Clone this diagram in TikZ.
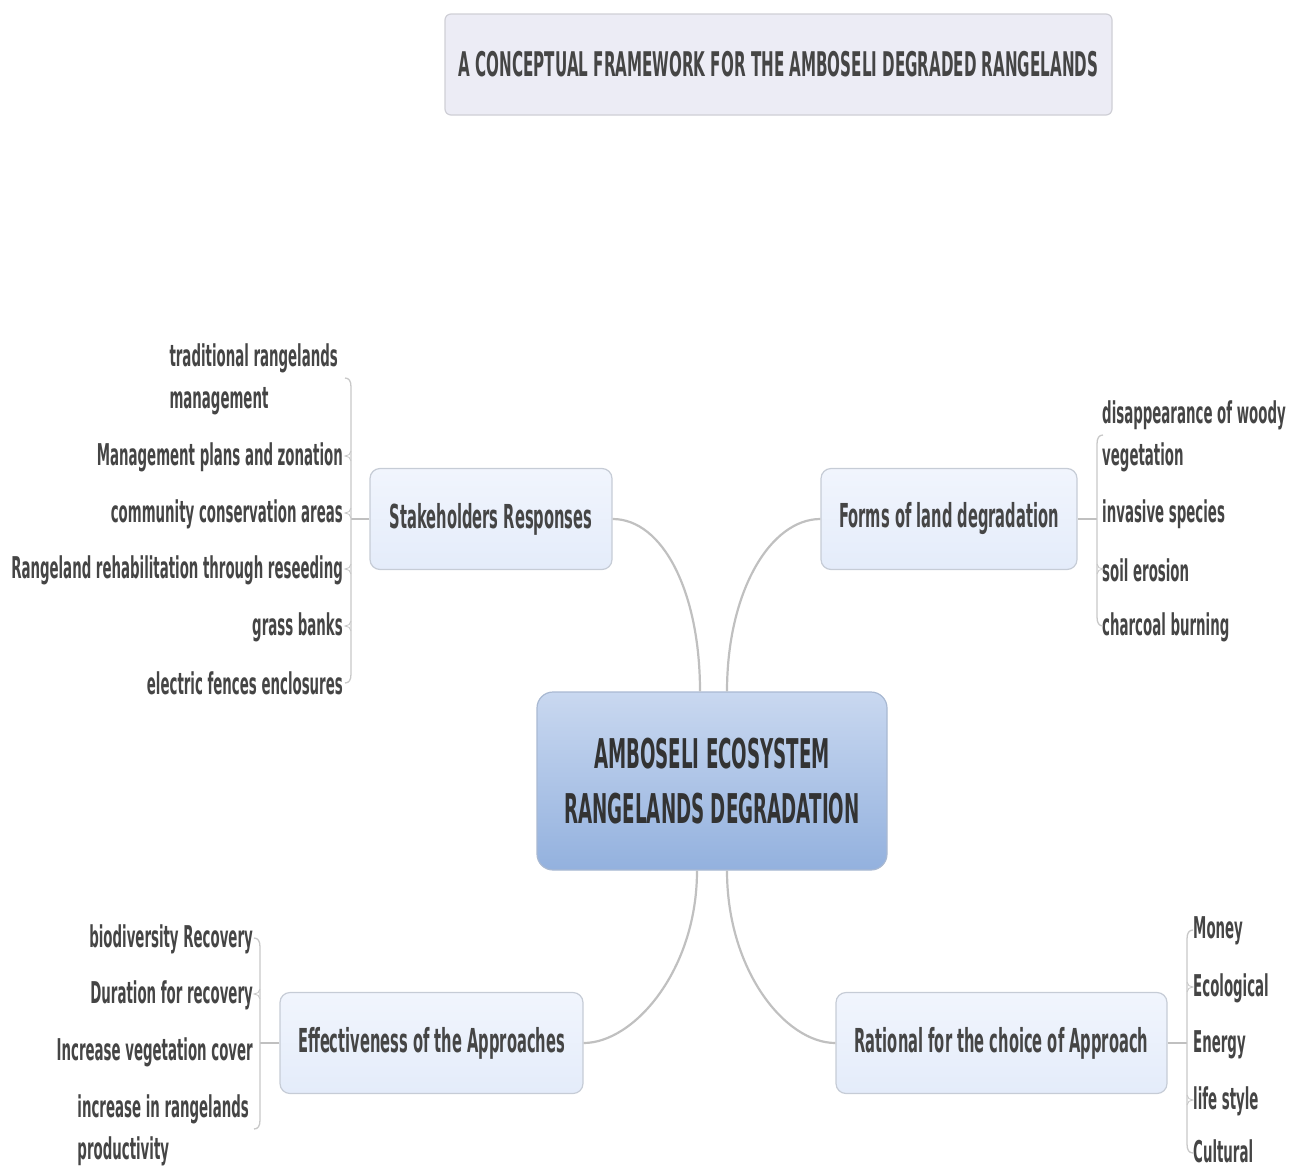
\documentclass[tikz,border=0pt]{standalone}
\usepackage{fontspec}
\newfontfamily\xm{DejaVu Sans}[FakeStretch=0.445]
\usetikzlibrary{shadows}
\definecolor{txt}{HTML}{454545}
\definecolor{ctxt}{HTML}{333333}
\definecolor{boxfillT}{HTML}{F1F5FD}
\definecolor{boxfillB}{HTML}{E4ECFA}
\definecolor{boxline}{HTML}{C6CCD6}
\definecolor{titlefill}{HTML}{ECECF5}
\definecolor{titleline}{HTML}{CFCFD6}
\definecolor{cTop}{HTML}{C9D8F0}
\definecolor{cBot}{HTML}{93B1DE}
\definecolor{cline}{HTML}{A9B9D2}
\definecolor{conn}{HTML}{C0C0C0}
\definecolor{brk}{HTML}{C8C8C8}
\tikzset{
  titlebox/.style={draw=titleline, line width=1.2pt, fill=titlefill, rounded corners=6pt,
    minimum width=667pt, minimum height=101pt, inner sep=0pt,
    font=\xm\bfseries\fontsize{34}{40}\selectfont, text=txt},
  centralbox/.style={draw=cline, line width=1.2pt, top color=cTop, bottom color=cBot, rounded corners=16pt,
    minimum width=350pt, minimum height=178pt, inner sep=0pt, align=center,
    font=\xm\bfseries\fontsize{41}{55}\selectfont, text=ctxt},
  topicbox/.style={draw=boxline, line width=1.2pt, top color=boxfillT, bottom color=boxfillB, rounded corners=10pt,
    minimum height=101pt, inner sep=0pt,
    font=\xm\bfseries\fontsize{33}{40}\selectfont, text=txt},
  leafL/.style={anchor=east, inner sep=0pt, align=left, font=\xm\bfseries\fontsize{30}{42}\selectfont, text=txt},
  leafR/.style={anchor=west, inner sep=0pt, align=left, font=\xm\bfseries\fontsize{30}{42}\selectfont, text=txt},
  connector/.style={draw=conn, line width=2.2pt},
  bracket/.style={draw=brk, line width=1.3pt},
}
\begin{document}
\begin{tikzpicture}[x=1pt,y=-1pt]
\useasboundingbox (0,0) rectangle (1300,1167);
% title
\node[titlebox] (title) at (778.5,64.5) {A CONCEPTUAL FRAMEWORK FOR THE AMBOSELI DEGRADED RANGELANDS};
% central
\node[centralbox] (c) at (712,781) {AMBOSELI ECOSYSTEM\\RANGELANDS DEGRADATION};
% topics
\node[topicbox, minimum width=242pt] (sr) at (491,519) {Stakeholders Responses};
\node[topicbox, minimum width=256pt] (fl) at (949,519) {Forms of land degradation};
\node[topicbox, minimum width=303pt] (ea) at (431.5,1043) {Effectiveness of the Approaches};
\node[topicbox, minimum width=331pt] (ra) at (1001.5,1043) {Rational for the choice of Approach};
% main connectors
\draw[connector] (sr.east) .. controls +(50,0) and +(0,-100) .. ([xshift=-12pt]c.north);
\draw[connector] (fl.west) .. controls +(-50,0) and +(0,-100) .. ([xshift=15pt]c.north);
\draw[connector] (ea.east) .. controls +(50,0) and +(0,100) .. ([xshift=-15pt]c.south);
\draw[connector] (ra.west) .. controls +(-50,0) and +(0,100) .. ([xshift=15pt]c.south);

% ---- Stakeholders leaves (left)
\node[leafL] (s1) at (338,379) {traditional rangelands\\management};
\node[leafL] (s2) at (343,457) {Management plans and zonation};
\node[leafL] (s3) at (343,514) {community conservation areas};
\node[leafL] (s4) at (343,570) {Rangeland rehabilitation through reseeding};
\node[leafL] (s5) at (343,627) {grass banks};
\node[leafL] (s6) at (343,683) {electric fences enclosures};
\coordinate (sb) at (351,519);
\draw[connector, line width=1.5pt] (sr.west) -- (sb);
\draw[bracket] (345,378) .. controls (349,378) and (351,381) .. (351,387) -- (351,674) .. controls (351,680) and (349,683) .. (345,683);
\foreach \y in {456,513,569,626}{
  \draw[bracket, line width=0.9pt] (351,\y-5) .. controls (351,\y-2) and (348,\y) .. (345,\y) .. controls (348,\y) and (351,\y+2) .. (351,\y+5);
}

% ---- Forms leaves (right)
\node[leafR] (f1) at (1102,436) {disappearance of woody\\vegetation};
\node[leafR] (f2) at (1102,514) {invasive species};
\node[leafR] (f3) at (1102,570) {soil erosion};
\node[leafR] (f4) at (1102,627) {charcoal burning};
\coordinate (fb) at (1097,519);
\draw[connector, line width=1.5pt] (fl.east) -- (fb);
\draw[bracket] (1103,435) .. controls (1099,435) and (1097,438) .. (1097,444) -- (1097,617) .. controls (1097,623) and (1099,626) .. (1103,626);
\foreach \y in {569}{
  \draw[bracket, line width=0.9pt] (1097,\y-5) .. controls (1097,\y-2) and (1100,\y) .. (1103,\y) .. controls (1100,\y) and (1097,\y+2) .. (1097,\y+5);
}

% ---- Effectiveness leaves (left)
\node[leafL] (e1) at (253,939) {biodiversity Recovery};
\node[leafL] (e2) at (253,995) {Duration for recovery};
\node[leafL] (e3) at (253,1052) {Increase vegetation cover};
\node[leafL] (e4) at (249,1130) {increase in rangelands\\productivity};
\coordinate (eb) at (260,1043);
\draw[connector, line width=1.5pt] (ea.west) -- (eb);
\draw[bracket] (254,938) .. controls (258,938) and (260,941) .. (260,947) -- (260,1120) .. controls (260,1126) and (258,1129) .. (254,1129);
\foreach \y in {994}{
  \draw[bracket, line width=0.9pt] (260,\y-5) .. controls (260,\y-2) and (257,\y) .. (254,\y) .. controls (257,\y) and (260,\y+2) .. (260,\y+5);
}

% ---- Rational leaves (right)
\node[leafR] (r1) at (1193,931) {Money};
\node[leafR] (r2) at (1193,988) {Ecological};
\node[leafR] (r3) at (1193,1045) {Energy};
\node[leafR] (r4) at (1193,1101) {life style};
\node[leafR] (r5) at (1193,1151) {Cultural};
\coordinate (rb) at (1187,1043);
\draw[connector, line width=1.5pt] (ra.east) -- (rb);
\draw[bracket] (1193,930) .. controls (1189,930) and (1187,933) .. (1187,939) -- (1187,1144) .. controls (1187,1150) and (1189,1153) .. (1193,1153);
\foreach \y in {987,1100}{
  \draw[bracket, line width=0.9pt] (1187,\y-5) .. controls (1187,\y-2) and (1190,\y) .. (1193,\y) .. controls (1190,\y) and (1187,\y+2) .. (1187,\y+5);
}
\end{tikzpicture}
\end{document}
